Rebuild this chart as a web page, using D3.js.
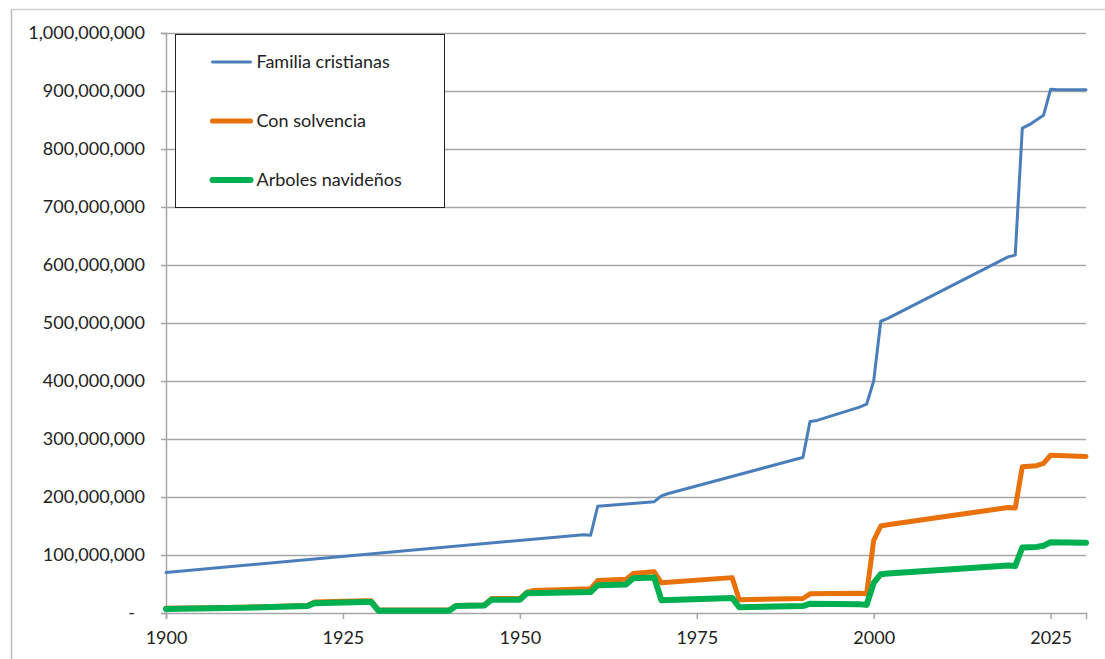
<!DOCTYPE html>
<html>
<head>
<meta charset="utf-8">
<script src="https://cdn.jsdelivr.net/npm/d3@7"></script>
<style>
  body { margin: 0; background: #fff; }
  svg { display: block; }
  text { font-family: Lato, "Liberation Sans", sans-serif; fill: #222; }
</style>
</head>
<body>
<div class="container"></div>
<script>
// values, in millions
const famYears = [1900, 1959, 1960, 1961, 1969, 1970, 1971, 1989, 1990, 1991, 1992, 1998, 1999, 2000, 2001, 2002, 2019, 2020, 2021, 2022, 2023, 2024, 2025, 2026, 2030];
const famValues = [70, 135, 134, 184, 192, 202, 206, 265, 268, 330, 332, 355, 360, 400, 503, 508, 614, 617, 836, 842, 850, 858, 903, 902, 902];

const conYears = [1900, 1911, 1920, 1921, 1928, 1929, 1930, 1940, 1941, 1945, 1946, 1950, 1951, 1952, 1960, 1961, 1965, 1966, 1969, 1970, 1980, 1981, 1990, 1991, 1998, 1999, 2000, 2001, 2002, 2019, 2020, 2021, 2023, 2024, 2025, 2030];
const conValues = [8, 10, 13, 19, 21, 21, 5, 5, 13, 14, 25, 25, 36, 39, 42, 56, 58, 68, 71, 52, 61, 23, 25, 33, 34, 33, 125, 150, 152, 182, 181, 252, 254, 258, 272, 270];

const arbYears = [1900, 1911, 1920, 1921, 1928, 1929, 1930, 1940, 1941, 1945, 1946, 1950, 1951, 1960, 1961, 1965, 1966, 1969, 1970, 1980, 1981, 1990, 1991, 1998, 1999, 2000, 2001, 2002, 2019, 2020, 2021, 2023, 2024, 2025, 2030];
const arbValues = [7, 9, 12, 17, 19, 19, 4, 4, 12, 13, 23, 23, 34, 36, 48, 49, 60, 61, 22, 26, 10, 12, 16, 15, 14, 52, 67, 68, 82, 81, 113, 114, 116, 122, 121];

const seriesNames = ["Familia cristianas", "Con solvencia", "Arboles navideños"];
const seriesColors = ["#4a7ebb", "#e8710a", "#00b050"];
const seriesWidths = [3, 5, 6];

const yTicks = [0, 100, 200, 300, 400, 500, 600, 700, 800, 900, 1000];
const xTicks = [1900, 1925, 1950, 1975, 2000, 2025];

const width = 1105, height = 659;
const margin = { top: 33, right: 19, bottom: 46, left: 166 };

const svg = d3.select(".container")
    .append("svg")
    .attr("width", width)
    .attr("height", height);

// outer frame edges of the sheet
svg.append("line").attr("x1", 12).attr("x2", width).attr("y1", 9.5).attr("y2", 9.5)
    .attr("stroke", "#cfcfcf").attr("stroke-width", 1.5);
svg.append("line").attr("x1", 11.5).attr("x2", 11.5).attr("y1", 9).attr("y2", height)
    .attr("stroke", "#bdbdbd").attr("stroke-width", 1.5);

const x = d3.scaleLinear().domain([1900, 2030]).range([margin.left, width - margin.right]);
const y = d3.scaleLinear().domain([0, 1000]).range([height - margin.bottom, margin.top]);

// gridlines
svg.append("g")
    .selectAll("line")
    .data(yTicks.filter((d) => d > 0))
    .enter()
    .append("line")
    .attr("x1", x(1900))
    .attr("x2", x(2030))
    .attr("y1", (d) => Math.round(y(d)) + 0.5)
    .attr("y2", (d) => Math.round(y(d)) + 0.5)
    .attr("stroke", "#a6a6a6")
    .attr("stroke-width", 1.5);

const yAxis = svg.append("g")
    .attr("transform", `translate(${x(1900)},0)`)
    .call(d3.axisLeft(y)
        .tickValues(yTicks)
        .tickSize(5)
        .tickPadding(16)
        .tickFormat((d) => (d === 0 ? "-" : d3.format(",")(d * 1e6))));
yAxis.select(".domain").attr("stroke", "#a6a6a6").attr("stroke-width", 1.5);
yAxis.selectAll(".tick line").attr("stroke", "#a6a6a6").attr("stroke-width", 1.5);
yAxis.selectAll(".tick text").attr("font-size", 18).attr("fill", "#222");
yAxis.selectAll(".tick text").filter((d) => d === 0).attr("dx", -10);

const xAxis = svg.append("g")
    .attr("transform", `translate(0,${y(0)})`)
    .call(d3.axisBottom(x)
        .tickValues(xTicks)
        .tickSize(6)
        .tickPadding(12)
        .tickFormat(d3.format("d")));
xAxis.select(".domain").attr("stroke", "#a6a6a6").attr("stroke-width", 1.5);
xAxis.selectAll(".tick line").attr("stroke", "#a6a6a6").attr("stroke-width", 1.5);
xAxis.selectAll(".tick text").attr("font-size", 18).attr("fill", "#222");

const seriesData = [
    famYears.map((yr, i) => [yr, famValues[i]]),
    conYears.map((yr, i) => [yr, conValues[i]]),
    arbYears.map((yr, i) => [yr, arbValues[i]]),
];

const line = d3.line()
    .x((d) => x(d[0]))
    .y((d) => y(d[1]));

svg.append("g")
    .selectAll("path")
    .data(seriesData)
    .enter()
    .append("path")
    .attr("d", line)
    .attr("fill", "none")
    .attr("stroke", (d, i) => seriesColors[i])
    .attr("stroke-width", (d, i) => seriesWidths[i])
    .attr("stroke-linejoin", "round")
    .attr("stroke-linecap", "round");

// legend
const legend = svg.append("g").attr("transform", "translate(175.5,34.5)");
legend.append("rect")
    .attr("width", 269)
    .attr("height", 173)
    .attr("fill", "#fff")
    .attr("stroke", "#222")
    .attr("stroke-width", 1);

const items = legend.selectAll("g.item")
    .data(seriesNames)
    .enter()
    .append("g")
    .attr("class", "item")
    .attr("transform", (d, i) => `translate(0,${27.5 + i * 59})`);

items.append("line")
    .attr("x1", 37)
    .attr("x2", 75)
    .attr("stroke", (d, i) => seriesColors[i])
    .attr("stroke-width", (d, i) => seriesWidths[i])
    .attr("stroke-linecap", "round");

items.append("text")
    .attr("x", 81)
    .attr("dy", "0.35em")
    .attr("font-size", 18)
    .text((d) => d);
</script>
</body>
</html>
